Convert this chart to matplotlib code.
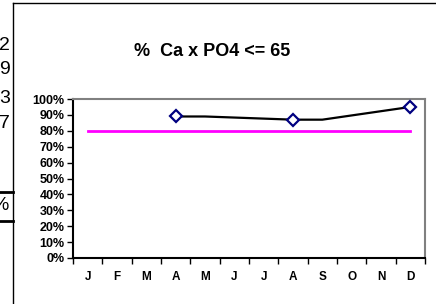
import numpy as np
import matplotlib
matplotlib.use("Agg")
import matplotlib.pyplot as plt
from matplotlib.lines import Line2D

plt.rcParams['font.family'] = ['Liberation Sans', 'DejaVu Sans']

# ----------------------- Data -----------------------
months = ["J", "F", "M", "A", "M", "J", "J", "A", "S", "O", "N", "D"]
# percent of patients with Ca x PO4 <= 65 (line, gaps bridged)
pct_line = [np.nan, np.nan, np.nan, 0.89, 0.89, np.nan, np.nan, 0.87, 0.87, np.nan, np.nan, 0.95]
# months with a marker
pct_marks = [np.nan, np.nan, np.nan, 0.89, np.nan, np.nan, np.nan, 0.87, np.nan, np.nan, np.nan, 0.95]
target = [0.80] * 12
yticks = np.arange(0, 1.01, 0.1)
left_cells = ["2", "9", "3", "7"]

W, H = 436, 304
fig = plt.figure(figsize=(W / 100, H / 100), dpi=100)
ax = fig.add_axes([73 / W, 1 - 258 / H, (425 - 73) / W, (258 - 99) / H])

x = np.arange(len(months))
line_arr = np.array(pct_line)
ok = ~np.isnan(line_arr)
ax.plot(x[ok], line_arr[ok], color="black", lw=1.6, zorder=3)
ax.plot(x, target, color="#FF00FF", lw=2, zorder=2)
ax.plot(x, pct_marks, ls="none", marker="D", ms=6, mfc="white", mec="#000080", mew=1.6, zorder=4)

ax.set_xlim(-0.5, 11.5)
ax.set_ylim(0, 1)
ax.set_yticks(yticks)
ax.set_yticklabels([f"{int(round(v * 100))}%" for v in yticks], fontsize=9, fontweight="bold")
ax.set_xticks(np.arange(-0.5, 12, 1))
ax.set_xticklabels([])
ax.set_xticks(x, minor=True)
ax.set_xticklabels(months, minor=True, fontsize=8.5, fontweight="bold")
ax.tick_params(axis="x", which="major", direction="out", length=4, width=1)
ax.tick_params(axis="x", which="minor", length=0, pad=9)
ax.tick_params(axis="y", direction="out", length=4, width=1, pad=2)

for s in ["left", "bottom"]:
    ax.spines[s].set_color("black")
    ax.spines[s].set_linewidth(1.5)
for s in ["top", "right"]:
    ax.spines[s].set_color("#808080")
    ax.spines[s].set_linewidth(1.5)

fig.text(212 / W, 1 - 52 / H, "%  Ca x PO4 <= 65", ha="center", va="center",
         fontsize=13, fontweight="bold")

# chart frame and neighbouring spreadsheet cells
fig.add_artist(Line2D([13 / W, 1], [1 - 3 / H, 1 - 3 / H], color="black", lw=1))
fig.add_artist(Line2D([13 / W, 13 / W], [0, 1 - 3 / H], color="black", lw=1))
fig.add_artist(Line2D([0, 13 / W], [1 - 192 / H, 1 - 192 / H], color="black", lw=2))
fig.add_artist(Line2D([0, 13 / W], [1 - 221 / H, 1 - 221 / H], color="black", lw=2))
for txt, yy in zip(left_cells, [45, 70, 99, 124]):
    fig.text(10 / W, 1 - yy / H, txt, ha="right", va="center", fontsize=14)
fig.text(9 / W, 1 - 206 / H, "%", ha="right", va="center", fontsize=14)

fig.savefig("out.png", dpi=100)
